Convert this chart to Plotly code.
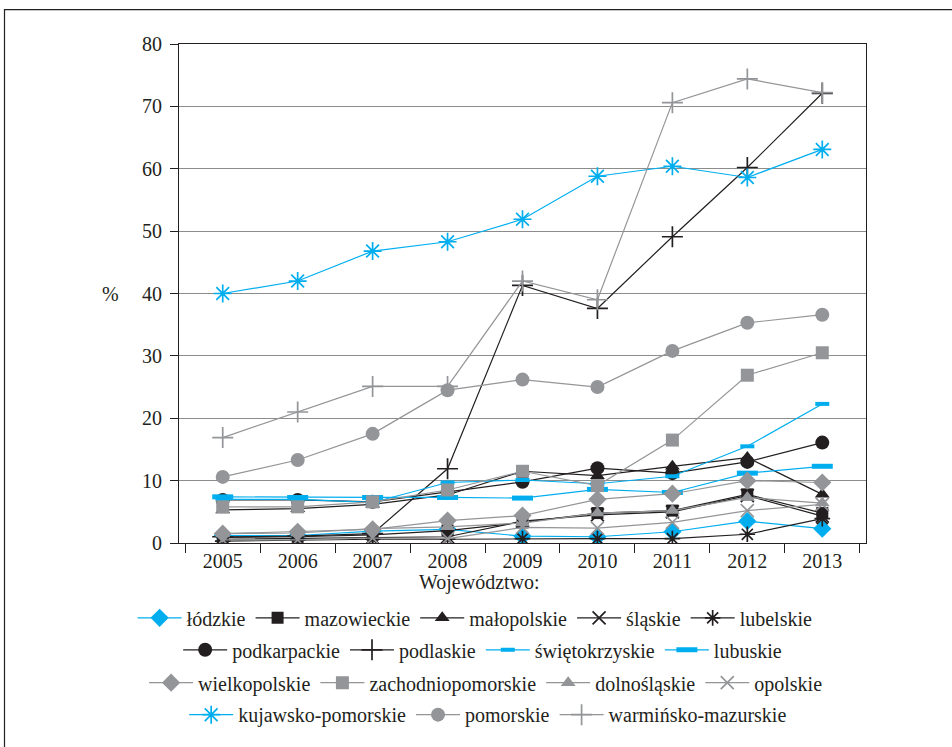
import plotly.graph_objects as go

# Lata i udział (%) w poszczególnych województwach
years = ["2005", "2006", "2007", "2008", "2009", "2010", "2011", "2012", "2013"]

lodzkie = [1.2, 1.2, 1.9, 2.2, 1.1, 1.0, 1.8, 3.5, 2.3]
mazowieckie = [0.9, 1.0, 1.3, 2.0, 3.3, 4.8, 5.2, 7.8, 4.8]
malopolskie = [5.3, 5.5, 6.2, 7.7, 11.5, 10.8, 12.3, 13.7, 7.8]
slaskie = [0.6, 0.7, 0.9, 1.0, 3.5, 4.5, 5.0, 7.6, 4.3]
lubelskie = [0.3, 0.5, 0.6, 0.6, 0.7, 0.7, 0.7, 1.4, 3.9]
podkarpackie = [6.9, 6.9, 6.6, 8.2, 9.8, 12.0, 11.2, 13.0, 16.1]
podlaskie = [1.0, 1.1, 1.5, 11.9, 41.3, 37.6, 49.1, 60.2, 72.1]
swietokrzyskie = [7.0, 7.0, 6.5, 9.7, 10.1, 9.5, 10.7, 15.5, 22.3]
lubuskie = [7.4, 7.3, 7.3, 7.3, 7.2, 8.6, 8.1, 11.2, 12.3]
wielkopolskie = [1.5, 1.8, 2.2, 3.6, 4.4, 7.0, 7.9, 10.0, 9.7]
zachodniopomorskie = [5.8, 5.8, 6.6, 8.5, 11.5, 9.2, 16.5, 26.9, 30.5]
dolnoslaskie = [1.5, 1.6, 2.3, 2.6, 3.2, 4.8, 5.2, 7.3, 6.4]
opolskie = [0.5, 0.5, 0.8, 0.7, 2.5, 2.4, 3.3, 5.2, 6.2]
kujawsko_pomorskie = [40.0, 42.0, 46.8, 48.3, 51.9, 58.8, 60.4, 58.6, 63.1]
pomorskie = [10.6, 13.3, 17.5, 24.5, 26.2, 25.0, 30.8, 35.3, 36.6]
warminsko_mazurskie = [16.9, 21.0, 25.1, 25.1, 42.0, 39.0, 70.6, 74.4, 72.2]

BLUE = "#00AEEF"
BLACK = "#231F20"
GRAY = "#939598"
FONT = "Liberation Serif"
FS = 20

# (nazwa, dane, kolor, symbol, rozmiar, wiersz legendy)
series = [
    ("łódzkie", lodzkie, BLUE, "diamond", 14, "legend"),
    ("mazowieckie", mazowieckie, BLACK, "square", 12, "legend"),
    ("małopolskie", malopolskie, BLACK, "triangle-up", 13, "legend"),
    ("śląskie", slaskie, BLACK, "x-thin", 13, "legend"),
    ("lubelskie", lubelskie, BLACK, "asterisk", 13, "legend"),
    ("podkarpackie", podkarpackie, BLACK, "circle", 14, "legend2"),
    ("podlaskie", podlaskie, BLACK, "cross-thin", 15, "legend2"),
    ("świętokrzyskie", swietokrzyskie, BLUE, "line-ew", 10, "legend2"),
    ("lubuskie", lubuskie, BLUE, "line-ew", 15, "legend2"),
    ("wielkopolskie", wielkopolskie, GRAY, "diamond", 14, "legend3"),
    ("zachodniopomorskie", zachodniopomorskie, GRAY, "square", 13, "legend3"),
    ("dolnośląskie", dolnoslaskie, GRAY, "triangle-up", 13, "legend3"),
    ("opolskie", opolskie, GRAY, "x-thin", 13, "legend3"),
    ("kujawsko-pomorskie", kujawsko_pomorskie, BLUE, "asterisk", 15, "legend4"),
    ("pomorskie", pomorskie, GRAY, "circle", 14, "legend4"),
    ("warmińsko-mazurskie", warminsko_mazurskie, GRAY, "cross-thin", 15, "legend4"),
]

fig = go.Figure()
for name, vals, color, symbol, size, leg in series:
    if symbol == "line-ew":
        mline = dict(color=color, width=5 if size > 12 else 4)
    elif symbol in ("x-thin", "asterisk", "cross-thin"):
        mline = dict(color=color, width=1.7)
    else:
        mline = dict(width=0)
    fig.add_trace(go.Scatter(
        x=years, y=vals, name=name, mode="lines+markers",
        line=dict(color=color, width=1.2),
        marker=dict(symbol=symbol, size=size, color=color, line=mline),
        legend=leg,
    ))

# Każdy wiersz legendy to osobna, wyśrodkowana legenda pozioma
legend_common = dict(
    orientation="h", xanchor="center", yanchor="middle",
    font=dict(family=FONT, size=FS, color=BLACK),
    bgcolor="rgba(0,0,0,0)", itemwidth=44,
)

fig.update_layout(
    width=952, height=747,
    margin=dict(l=179, r=86, t=44, b=204),
    paper_bgcolor="white", plot_bgcolor="white",
    font=dict(family=FONT, size=FS, color=BLACK),
    legend=dict(x=0.431, y=-0.150, **legend_common),
    legend2=dict(x=0.442, y=-0.214, **legend_common),
    legend3=dict(x=0.447, y=-0.280, **legend_common),
    legend4=dict(x=0.450, y=-0.344, **legend_common),
    xaxis=dict(
        type="category", tickson="boundaries", ticks="outside", ticklen=9,
        tickcolor=BLACK, showline=True, linecolor=BLACK, linewidth=1,
        mirror=True, showgrid=False,
        tickfont=dict(family=FONT, size=FS, color=BLACK),
    ),
    yaxis=dict(
        range=[0, 80], dtick=10, ticks="outside", ticklen=8, tickcolor=BLACK,
        ticklabelstandoff=4,
        showline=True, linecolor=BLACK, linewidth=1, mirror=True,
        showgrid=True, gridcolor="#8C8C8C", gridwidth=1, zeroline=False,
        tickfont=dict(family=FONT, size=FS, color=BLACK),
    ),
    annotations=[
        dict(text="%", xref="paper", yref="paper", x=-0.1, y=0.5,
             xanchor="center", showarrow=False,
             font=dict(family=FONT, size=FS, color=BLACK)),
        dict(text="Województwo:", xref="paper", yref="paper", x=0.437, y=-0.080,
             xanchor="center", yanchor="middle", showarrow=False,
             font=dict(family=FONT, size=FS, color=BLACK)),
    ],
    shapes=[
        dict(type="rect", xref="paper", yref="paper",
             x0=-0.254, x1=1.2, y0=-0.5, y1=1.069,
             line=dict(color=BLACK, width=1.2), fillcolor="rgba(0,0,0,0)",
             layer="below"),
    ],
)

fig.write_html("out.html")
